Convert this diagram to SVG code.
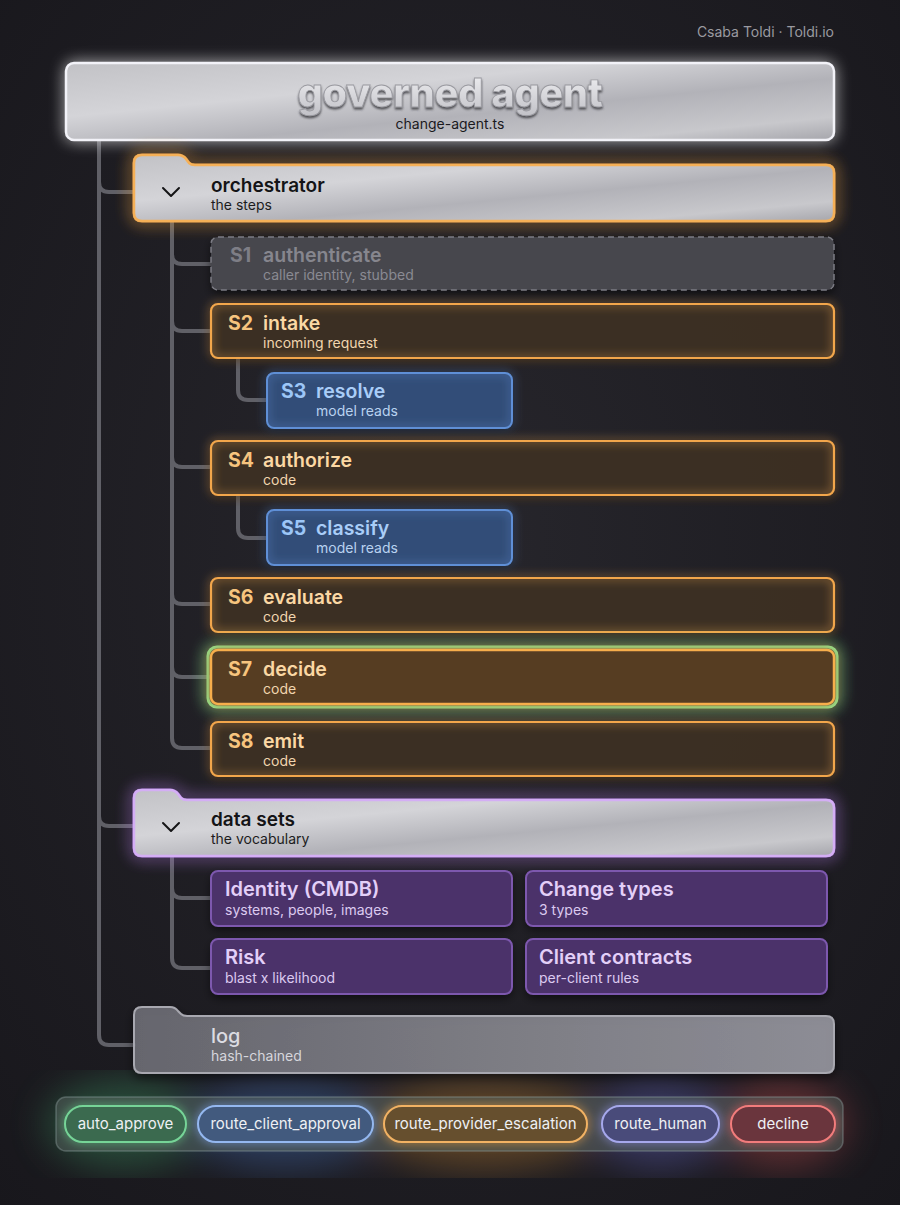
<svg xmlns="http://www.w3.org/2000/svg" width="900" height="1205" viewBox="0 0 900 1205">
<defs>
<radialGradient id="bg" cx="50%" cy="45%" r="75%">
<stop offset="0" stop-color="#27262c"/>
<stop offset="1" stop-color="#18171c"/>
</radialGradient>
<linearGradient id="metal" x1="0" y1="0" x2="1" y2="1">
<stop offset="0" stop-color="#c2c2c6"/>
<stop offset="0.35" stop-color="#d4d4d8"/>
<stop offset="0.6" stop-color="#b2b2b8"/>
<stop offset="0.85" stop-color="#c8c8cc"/>
<stop offset="1" stop-color="#a6a6ac"/>
</linearGradient>
<linearGradient id="logfill" x1="0" y1="0" x2="1" y2="0">
<stop offset="0" stop-color="#707078"/>
<stop offset="0.5" stop-color="#888890"/>
<stop offset="1" stop-color="#9c9ca5"/>
</linearGradient>
<linearGradient id="titlefill" x1="0" y1="0" x2="0" y2="1">
<stop offset="0" stop-color="#f4f4f6"/>
<stop offset="1" stop-color="#c0c0c6"/>
</linearGradient>
<filter id="glow" x="-10%" y="-40%" width="120%" height="180%">
<feGaussianBlur in="SourceGraphic" stdDeviation="5" result="b"/>
<feMerge><feMergeNode in="b"/><feMergeNode in="SourceGraphic"/></feMerge>
</filter>
<filter id="glowBig" x="-10%" y="-50%" width="120%" height="200%">
<feGaussianBlur in="SourceGraphic" stdDeviation="8" result="b"/>
<feMerge><feMergeNode in="b"/><feMergeNode in="b"/><feMergeNode in="SourceGraphic"/></feMerge>
</filter>
<filter id="shadow" x="-10%" y="-30%" width="120%" height="180%">
<feDropShadow dx="0" dy="4" stdDeviation="5" flood-color="#000" flood-opacity="0.55"/>
</filter>
<filter id="emboss" x="-5%" y="-20%" width="110%" height="150%">
<feDropShadow dx="0" dy="2" stdDeviation="1.2" flood-color="#404046" flood-opacity="0.9"/>
</filter>
<filter id="blur20"><feGaussianBlur stdDeviation="18"/></filter>
<style>
.lbl{font-family:Inter,"Liberation Sans",sans-serif}
.trunk{fill:none;stroke:#606067;stroke-width:4;stroke-linecap:round}
.stepFill{fill:#3d2f23;fill-opacity:0.92}
.stepBorder{fill:none;stroke:#f2a64c;stroke-width:2.2}
.stepNum{font-size:19.5px;font-weight:700;fill:#f6c47e}
.stepTitle{font-size:19.5px;font-weight:600;fill:#fbd8a4}
.stepSub{font-size:14px;fill:#f1d5ae}
.blueFill{fill:#324e78}
.blueBorder{fill:none;stroke:#5f8fd6;stroke-width:2}
.blueNum{font-size:19.5px;font-weight:700;fill:#9cc6f7}
.blueTitle{font-size:19.5px;font-weight:600;fill:#a9cdf8}
.blueSub{font-size:14px;fill:#b8d2f0}
.purFill{fill:#4c316b}
.purBorder{fill:none;stroke:#7d58ae;stroke-width:2}
.purTitle{font-size:20px;font-weight:600;fill:#e3cff8}
.purSub{font-size:14px;fill:#dccaf0}
.folderTitle{font-size:19px;font-weight:600;fill:#141416}
.folderSub{font-size:14px;fill:#1c1c20}
.chev{fill:none;stroke:#141416;stroke-width:2;stroke-linecap:round;stroke-linejoin:round}
.pillText{font-size:15px;fill:#eef0f4;text-anchor:middle}
</style>
</defs>

<rect width="900" height="1205" fill="url(#bg)"/>

<!-- legend background glows -->
<g opacity="0.35" filter="url(#blur20)">
<ellipse cx="125" cy="1124" rx="80" ry="45" fill="#3fa56a"/>
<ellipse cx="285" cy="1124" rx="100" ry="45" fill="#4a78c8"/>
<ellipse cx="485" cy="1124" rx="120" ry="45" fill="#d08a30"/>
<ellipse cx="660" cy="1124" rx="70" ry="45" fill="#6a6ad0"/>
<ellipse cx="783" cy="1124" rx="65" ry="45" fill="#d05050"/>
</g>

<text class="lbl" x="834" y="37" font-size="14" fill="#9a9aa0" text-anchor="end">Csaba Toldi · Toldi.io</text>

<!-- connectors -->
<g id="connectors">
<path class="trunk" d="M99,140 V1035 Q99,1045 109,1045 H134"/>
<path class="trunk" d="M99,182 Q99,192 109,192 H134"/>
<path class="trunk" d="M99,816 Q99,826 109,826 H134"/>
<path class="trunk" d="M172,221 V738 Q172,748 182,748 H211"/>
<path class="trunk" d="M172,254 Q172,264 182,264 H211"/>
<path class="trunk" d="M172,321 Q172,331 182,331 H211"/>
<path class="trunk" d="M172,457 Q172,467 182,467 H211"/>
<path class="trunk" d="M172,594 Q172,604 182,604 H211"/>
<path class="trunk" d="M172,667 Q172,677 182,677 H209"/>
<path class="trunk" d="M238,358 V390 Q238,400 248,400 H267"/>
<path class="trunk" d="M238,495 V528 Q238,538 248,538 H267"/>
<path class="trunk" d="M172,856 V958 Q172,968 182,968 H211"/>
<path class="trunk" d="M172,888 Q172,898 182,898 H211"/>
</g>

<!-- header -->
<g id="header">
<rect x="66" y="63" width="768" height="77" rx="8" fill="#ffffff" opacity="0.45" filter="url(#glowBig)"/>
<rect x="66" y="63" width="768" height="77" rx="8" fill="url(#metal)" stroke="#f2f2f8" stroke-width="2.5"/>
<text class="lbl" x="450" y="107" font-size="40" font-weight="800" fill="url(#titlefill)" stroke="#9a9aa0" stroke-width="0.8" text-anchor="middle" filter="url(#emboss)" letter-spacing="-0.5">governed agent</text>
<text class="lbl" x="450" y="129" font-size="14" fill="#1a1a1e" text-anchor="middle">change-agent.ts</text>
</g>

<!-- orchestrator -->
<g id="orchestrator">
<path d="M142,155 H178 Q183,155 186,159 L189,163 Q191,165 195,165 H826 Q834,165 834,173 V213 Q834,221 826,221 H142 Q134,221 134,213 V163 Q134,155 142,155 Z" fill="none" stroke="#f5a84a" stroke-width="3" filter="url(#glowBig)" opacity="0.8"/>
<path d="M142,155 H178 Q183,155 186,159 L189,163 Q191,165 195,165 H826 Q834,165 834,173 V213 Q834,221 826,221 H142 Q134,221 134,213 V163 Q134,155 142,155 Z" fill="url(#metal)" stroke="#f5b057" stroke-width="2.5"/>
<path class="chev" d="M163,188 L171,196 L179,188"/>
<text class="lbl folderTitle" x="211" y="192">orchestrator</text>
<text class="lbl folderSub" x="211" y="210">the steps</text>
</g>

<!-- S1 -->
<g id="s1">
<rect x="211" y="237" width="623" height="53" rx="7" fill="#46464d" filter="url(#shadow)"/>
<rect x="211" y="237" width="623" height="53" rx="7" fill="none" stroke="#7c7c84" stroke-width="1.5" stroke-dasharray="6 4"/>
<text class="lbl" x="230" y="262" font-size="19.5" font-weight="700" fill="#7e7e86">S1</text>
<text class="lbl" x="263" y="262" font-size="19.5" font-weight="600" fill="#86868e">authenticate</text>
<text class="lbl" x="263" y="280" font-size="14" fill="#8a8a92">caller identity, stubbed</text>
</g>

<!-- S2 -->
<g id="s2">
<rect class="stepFill" x="211" y="304" width="623" height="54" rx="7" filter="url(#shadow)"/>
<rect class="stepBorder" x="211" y="304" width="623" height="54" rx="7" filter="url(#glow)"/>
<text class="lbl stepNum" x="228" y="330">S2</text>
<text class="lbl stepTitle" x="263" y="330">intake</text>
<text class="lbl stepSub" x="263" y="348">incoming request</text>
</g>

<!-- S3 -->
<g id="s3">
<rect class="blueFill" x="267" y="373" width="245" height="55" rx="7" filter="url(#shadow)"/>
<rect class="blueBorder" x="267" y="373" width="245" height="55" rx="7" filter="url(#glow)"/>
<text class="lbl blueNum" x="281" y="398">S3</text>
<text class="lbl blueTitle" x="316" y="398">resolve</text>
<text class="lbl blueSub" x="316" y="416">model reads</text>
</g>

<!-- S4 -->
<g id="s4">
<rect class="stepFill" x="211" y="441" width="623" height="54" rx="7" filter="url(#shadow)"/>
<rect class="stepBorder" x="211" y="441" width="623" height="54" rx="7" filter="url(#glow)"/>
<text class="lbl stepNum" x="228" y="467">S4</text>
<text class="lbl stepTitle" x="263" y="467">authorize</text>
<text class="lbl stepSub" x="263" y="485">code</text>
</g>

<!-- S5 -->
<g id="s5">
<rect class="blueFill" x="267" y="510" width="245" height="55" rx="7" filter="url(#shadow)"/>
<rect class="blueBorder" x="267" y="510" width="245" height="55" rx="7" filter="url(#glow)"/>
<text class="lbl blueNum" x="281" y="535">S5</text>
<text class="lbl blueTitle" x="316" y="535">classify</text>
<text class="lbl blueSub" x="316" y="553">model reads</text>
</g>

<!-- S6 -->
<g id="s6">
<rect class="stepFill" x="211" y="578" width="623" height="54" rx="7" filter="url(#shadow)"/>
<rect class="stepBorder" x="211" y="578" width="623" height="54" rx="7" filter="url(#glow)"/>
<text class="lbl stepNum" x="228" y="604">S6</text>
<text class="lbl stepTitle" x="263" y="604">evaluate</text>
<text class="lbl stepSub" x="263" y="622">code</text>
</g>

<!-- S7 -->
<g id="s7">
<rect x="208" y="647" width="629" height="60" rx="9" fill="none" stroke="#8be690" stroke-width="3" filter="url(#glowBig)"/>
<rect x="211" y="650" width="623" height="54" rx="7" fill="#563d24" stroke="#f7ae4c" stroke-width="2.5" filter="url(#glow)"/>
<text class="lbl stepNum" x="228" y="676" fill="#fbd38a">S7</text>
<text class="lbl stepTitle" x="263" y="676" fill="#fde0a8">decide</text>
<text class="lbl stepSub" x="263" y="694">code</text>
</g>

<!-- S8 -->
<g id="s8">
<rect class="stepFill" x="211" y="722" width="623" height="54" rx="7" filter="url(#shadow)"/>
<rect class="stepBorder" x="211" y="722" width="623" height="54" rx="7" filter="url(#glow)"/>
<text class="lbl stepNum" x="228" y="748">S8</text>
<text class="lbl stepTitle" x="263" y="748">emit</text>
<text class="lbl stepSub" x="263" y="766">code</text>
</g>

<!-- data sets -->
<g id="datasets">
<path d="M142,790 H170 Q175,790 178,794 L181,798 Q183,800 187,800 H826 Q834,800 834,808 V848 Q834,856 826,856 H142 Q134,856 134,848 V798 Q134,790 142,790 Z" fill="none" stroke="#b57ee8" stroke-width="3" filter="url(#glowBig)" opacity="0.8"/>
<path d="M142,790 H170 Q175,790 178,794 L181,798 Q183,800 187,800 H826 Q834,800 834,808 V848 Q834,856 826,856 H142 Q134,856 134,848 V798 Q134,790 142,790 Z" fill="url(#metal)" stroke="#d4aef5" stroke-width="2.5"/>
<path class="chev" d="M163,823 L171,831 L179,823"/>
<text class="lbl folderTitle" x="211" y="826">data sets</text>
<text class="lbl folderSub" x="211" y="844">the vocabulary</text>
</g>

<g id="identity">
<rect class="purFill" x="211" y="871" width="301" height="55" rx="7" filter="url(#shadow)"/>
<rect class="purBorder" x="211" y="871" width="301" height="55" rx="7"/>
<text class="lbl purTitle" x="225" y="896">Identity (CMDB)</text>
<text class="lbl purSub" x="225" y="915">systems, people, images</text>
</g>
<g id="changetypes">
<rect class="purFill" x="526" y="871" width="301" height="55" rx="7" filter="url(#shadow)"/>
<rect class="purBorder" x="526" y="871" width="301" height="55" rx="7"/>
<text class="lbl purTitle" x="539" y="896">Change types</text>
<text class="lbl purSub" x="539" y="915">3 types</text>
</g>
<g id="risk">
<rect class="purFill" x="211" y="939" width="301" height="55" rx="7" filter="url(#shadow)"/>
<rect class="purBorder" x="211" y="939" width="301" height="55" rx="7"/>
<text class="lbl purTitle" x="225" y="964">Risk</text>
<text class="lbl purSub" x="225" y="983">blast x likelihood</text>
</g>
<g id="contracts">
<rect class="purFill" x="526" y="939" width="301" height="55" rx="7" filter="url(#shadow)"/>
<rect class="purBorder" x="526" y="939" width="301" height="55" rx="7"/>
<text class="lbl purTitle" x="539" y="964">Client contracts</text>
<text class="lbl purSub" x="539" y="983">per-client rules</text>
</g>

<!-- log -->
<g id="log">
<path d="M142,1007 H170 Q175,1007 178,1011 L181,1014 Q183,1016 187,1016 H826 Q834,1016 834,1024 V1065 Q834,1073 826,1073 H142 Q134,1073 134,1065 V1015 Q134,1007 142,1007 Z" fill="url(#logfill)" fill-opacity="0.85" stroke="#a8a8b0" stroke-width="2" filter="url(#shadow)"/>
<text class="lbl" x="211" y="1043" font-size="20" font-weight="500" fill="#dcdce2">log</text>
<text class="lbl" x="211" y="1061" font-size="14" fill="#d6d6dc">hash-chained</text>
</g>

<!-- legend -->
<g id="legend">
<rect x="56" y="1097" width="787" height="54" rx="10" fill="#4e5a57" fill-opacity="0.6" stroke="#8a9a9a" stroke-opacity="0.45" stroke-width="1.5"/>
<g id="pill-auto">
<rect x="65" y="1106" width="121" height="36" rx="18" fill="#3a6a50" stroke="#76d497" stroke-width="2" filter="url(#glow)"/>
<text class="lbl pillText" x="125.5" y="1129">auto_approve</text>
</g>
<g id="pill-client">
<rect x="198" y="1106" width="175" height="36" rx="18" fill="#435a7e" stroke="#94b8f0" stroke-width="2" filter="url(#glow)"/>
<text class="lbl pillText" x="285.5" y="1129">route_client_approval</text>
</g>
<g id="pill-provider">
<rect x="384" y="1106" width="203" height="36" rx="18" fill="#66502f" stroke="#f2b264" stroke-width="2" filter="url(#glow)"/>
<text class="lbl pillText" x="485.5" y="1129">route_provider_escalation</text>
</g>
<g id="pill-human">
<rect x="602" y="1106" width="117" height="36" rx="18" fill="#4a4c7a" stroke="#a6a8ec" stroke-width="2" filter="url(#glow)"/>
<text class="lbl pillText" x="660.5" y="1129">route_human</text>
</g>
<g id="pill-decline">
<rect x="731" y="1106" width="104" height="36" rx="18" fill="#6a363c" stroke="#f27c7c" stroke-width="2" filter="url(#glow)"/>
<text class="lbl pillText" x="783" y="1129">decline</text>
</g>
</g>
</svg>
